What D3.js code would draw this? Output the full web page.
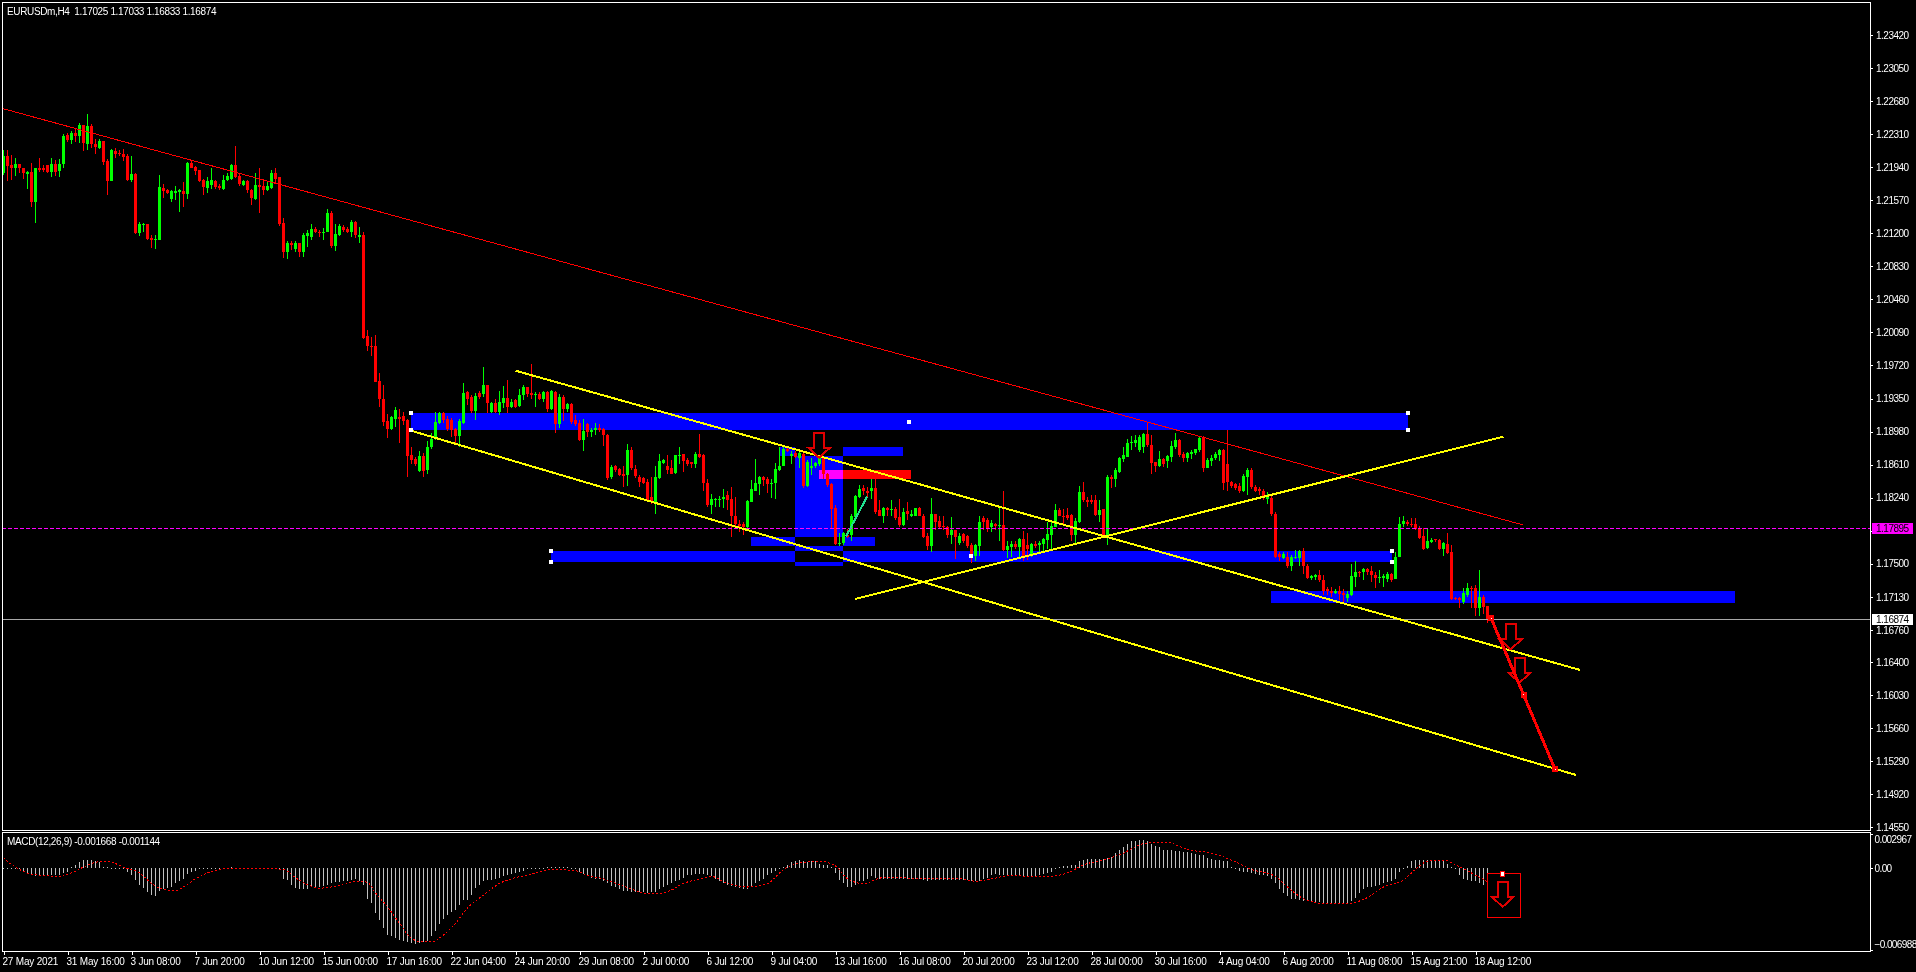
<!DOCTYPE html>
<html>
<head>
<meta charset="utf-8">
<title>EURUSDm,H4</title>
<script src="https://cdn.jsdelivr.net/npm/d3@7/dist/d3.min.js"></script>
<style>
  html, body { margin: 0; padding: 0; background: #000; overflow: hidden; }
  svg { display: block; }
  text { font-family: "Liberation Sans", Arial, sans-serif; font-size: 10px; letter-spacing: -0.5px; fill: #fff; }
  .blocks { isolation: isolate; }
  .blocks rect { mix-blend-mode: difference; }
</style>
</head>
<body>
<div id="plot"></div>
<script>
// all prices below are in units of 0.0001 (12187 = 1.2187), one entry per H4 bar
const opens = [
12187,12206,12196,12193,12198,12193,12186,12189,12155,12193,12193,12196,12189,12198,12190,12198,
12230,12224,12232,12229,12241,12220,12240,12220,12216,12223,12201,12178,12212,12210,12209,12207,
12180,12186,12120,12129,12130,12115,12112,12112,12171,12169,12158,12165,12166,12167,12164,12199,
12194,12191,12180,12171,12174,12178,12173,12170,12180,12181,12196,12184,12174,12178,12169,12158,
12174,12173,12168,12171,12188,12183,12131,12099,12109,12102,12109,12099,12117,12116,12125,12122,
12121,12122,12143,12106,12118,12127,12125,12122,12133,12116,12118,12005,11994,11994,11955,11935,
11910,11901,11912,11914,11916,11911,11872,11867,11854,11871,11855,11881,11890,11908,11919,11912,
11911,11901,11893,11908,11942,11937,11921,11941,11940,11950,11920,11930,11920,11930,11936,11925,
11933,11927,11939,11948,11941,11939,11940,11934,11942,11923,11942,11907,11937,11923,11929,11911,
11908,11889,11907,11898,11900,11902,11901,11894,11847,11859,11856,11851,11849,11877,11856,11847,
11846,11842,11825,11819,11846,11863,11859,11857,11852,11872,11873,11866,11864,11862,11873,11872,
11841,11816,11821,11822,11822,11827,11822,11803,11795,11794,11791,11819,11832,11839,11847,11845,
11839,11840,11855,11860,11879,11871,11874,11868,11873,11837,11857,11859,11862,11868,11851,11839,
11812,11772,11773,11782,11782,11802,11825,11835,11831,11831,11835,11810,11804,11813,11810,11811,
11802,11793,11809,11803,11803,11812,11804,11781,11770,11806,11798,11792,11791,11782,11788,11773,
11783,11781,11771,11759,11770,11801,11799,11791,11795,11792,11793,11766,11769,11772,11769,11778,
11771,11760,11772,11771,11772,11777,11782,11791,11810,11804,11805,11805,11782,11797,11830,11821,
11821,11821,11805,11811,11782,11847,11845,11853,11867,11870,11885,11885,11877,11881,11895,11883,
11864,11860,11867,11865,11870,11881,11889,11873,11868,11873,11874,11877,11891,11857,11865,11868,
11872,11877,11862,11842,11839,11837,11832,11847,11855,11836,11834,11832,11823,11824,11806,11761,
11757,11758,11747,11758,11757,11764,11748,11734,11735,11738,11732,11722,11720,11717,11719,11717,
11712,11715,11735,11741,11741,11744,11742,11738,11734,11734,11733,11739,11733,11758,11794,11797,
11795,11794,11790,11781,11768,11774,11778,11777,11767,11772,11763,11712,11712,11707,11715,11723,
11723,11701,11713,11702.5];

const highs = [
12213,12213,12208,12204,12198,12193,12190,12199,12193,12204,12196,12196,12204,12202,12203,12231,
12232,12234,12237,12243,12241,12253,12242,12226,12226,12223,12203,12214,12215,12213,12214,12209,
12207,12188,12133,12132,12130,12118,12118,12185,12175,12170,12168,12173,12170,12177,12200,12202,
12195,12191,12181,12183,12193,12180,12175,12185,12187,12198,12218,12187,12180,12180,12170,12187,
12193,12181,12177,12191,12193,12183,12137,12111,12111,12111,12109,12120,12124,12130,12127,12124,
12126,12147,12145,12130,12130,12129,12127,12135,12134,12127,12122,12012,12004,12006,11964,11950,
11918,11916,11925,11923,11920,11912,11881,11870,11876,11874,11887,11896,11920,11920,11920,11915,
11913,11902,11912,11952,11943,11939,11941,11943,11970,11950,11931,11935,11943,11949,11956,11935,
11935,11946,11950,11948,11974,11942,11942,11943,11943,11945,11943,11940,11939,11930,11930,11917,
11911,11912,11908,11902,11908,11907,11902,11895,11861,11861,11857,11860,11884,11881,11861,11849,
11847,11845,11847,11859,11873,11867,11872,11866,11872,11881,11873,11868,11864,11875,11895,11873,
11845,11828,11824,11826,11834,11832,11836,11825,11799,11797,11821,11844,11867,11848,11848,11847,
11845,11863,11881,11881,11881,11876,11876,11877,11875,11866,11868,11864,11870,11870,11852,11840,
11816,11784,11786,11789,11806,11827,11838,11838,11836,11845,11845,11821,11814,11814,11821,11814,
11822,11813,11819,11810,11813,11814,11806,11784,11824,11806,11803,11803,11792,11802,11788,11784,
11784,11782,11773,11772,11803,11804,11801,11799,11796,11814,11831,11776,11776,11775,11779,11787,
11784,11773,11776,11775,11779,11797,11798,11817,11813,11811,11812,11806,11801,11837,11842,11825,
11827,11827,11821,11811,11849,11849,11857,11870,11881,11890,11893,11894,11894,11896,11908,11894,
11864,11876,11868,11872,11888,11896,11890,11875,11875,11877,11879,11893,11893,11868,11872,11875,
11879,11878,11900,11843,11840,11840,11850,11857,11857,11838,11836,11834,11830,11826,11808,11763,
11763,11763,11760,11765,11765,11768,11750,11738,11739,11743,11738,11724,11724,11722,11725,11722,
11719,11750,11753,11742,11745,11745,11748,11741,11743,11739,11741,11740,11763,11802,11804,11799,
11801,11801,11792,11790,11789,11779,11778,11778,11774,11784,11771,11713,11713,11723,11729,11725,
11726,11743,11715,11703.3];

const lows = [
12185,12178,12180,12184,12187,12181,12170,12150,12132,12189,12189,12187,12183,12184,12183,12193,
12222,12220,12222,12221,12212,12213,12215,12209,12214,12196,12163,12178,12204,12206,12201,12178,
12177,12119,12117,12121,12113,12103,12102,12112,12159,12164,12155,12157,12144,12149,12158,12193,
12185,12177,12163,12165,12170,12170,12168,12169,12178,12180,12182,12173,12173,12165,12152,12157,
12143,12163,12167,12170,12176,12128,12092,12091,12101,12099,12094,12094,12105,12112,12120,12116,
12112,12121,12104,12100,12117,12122,12120,12116,12115,12109,12002,11988,11983,11953,11926,11904,
11891,11900,11903,11885,11905,11847,11862,11859,11853,11847,11851,11879,11889,11907,11908,11899,
11892,11883,11881,11907,11928,11919,11911,11935,11937,11919,11919,11919,11917,11924,11919,11924,
11924,11925,11933,11937,11935,11925,11933,11931,11920,11922,11896,11902,11910,11920,11907,11904,
11888,11876,11892,11892,11894,11898,11882,11844,11845,11853,11848,11836,11837,11855,11846,11836,
11839,11819,11817,11806,11845,11862,11851,11850,11850,11862,11853,11860,11857,11857,11869,11831,
11814,11806,11814,11814,11812,11810,11780,11791,11786,11782,11789,11819,11832,11827,11837,11829,
11824,11823,11854,11859,11875,11862,11868,11857,11835,11836,11849,11857,11860,11845,11836,11789,
11771,11770,11771,11779,11775,11801,11824,11827,11825,11823,11806,11803,11796,11804,11803,11799,
11791,11792,11799,11802,11803,11803,11779,11765,11763,11788,11789,11788,11779,11772,11755,11771,
11773,11768,11751,11753,11759,11788,11786,11786,11788,11776,11764,11756,11758,11767,11758,11753,
11754,11758,11768,11763,11763,11767,11767,11791,11803,11795,11799,11775,11772,11796,11819,11814,
11817,11803,11797,11779,11771,11835,11836,11852,11864,11870,11877,11881,11875,11874,11881,11850,
11853,11858,11858,11857,11864,11879,11870,11864,11864,11867,11872,11875,11853,11857,11860,11866,
11865,11833,11832,11835,11833,11829,11830,11827,11834,11830,11827,11821,11817,11804,11756,11753,
11755,11745,11742,11755,11748,11739,11733,11732,11732,11730,11715,11715,11713,11716,11710,11707,
11707,11714,11724,11735,11732,11737,11730,11723,11728,11724,11730,11730,11733,11758,11791,11792,
11791,11788,11778,11766,11767,11773,11774,11766,11759,11761,11710,11709,11700,11705,11713,11700,
11691,11692,11694,11683.3];

const closes = [
12206,12195,12193,12198,12193,12187,12189,12155,12193,12191,12191,12189,12198,12189,12198,12229,
12224,12232,12229,12241,12221,12240,12220,12217,12223,12200,12178,12213,12209,12209,12205,12180,
12186,12120,12130,12130,12114,12112,12114,12172,12167,12165,12167,12167,12168,12164,12199,12193,
12190,12178,12172,12178,12180,12172,12171,12180,12184,12196,12183,12175,12178,12168,12159,12174,
12172,12168,12173,12188,12181,12130,12099,12109,12107,12109,12099,12118,12120,12125,12121,12120,
12122,12143,12106,12119,12128,12124,12121,12133,12118,12118,12003,11994,11993,11954,11935,11909,
11901,11914,11922,11912,11910,11871,11866,11862,11871,11854,11881,11890,11909,11919,11911,11901,
11900,11893,11910,11941,11935,11921,11938,11937,11950,11930,11930,11920,11931,11936,11925,11931,
11926,11939,11948,11940,11939,11940,11934,11942,11923,11943,11907,11937,11923,11929,11909,11907,
11889,11899,11898,11900,11902,11900,11894,11846,11858,11855,11849,11848,11877,11857,11848,11842,
11841,11821,11819,11847,11865,11866,11855,11851,11872,11872,11865,11862,11862,11873,11870,11840,
11816,11822,11823,11823,11825,11821,11803,11794,11792,11791,11820,11834,11840,11847,11844,11839,
11841,11856,11860,11879,11876,11873,11870,11874,11837,11864,11859,11863,11868,11850,11838,11811,
11772,11773,11784,11780,11803,11826,11834,11831,11829,11835,11808,11804,11812,11810,11811,11801,
11793,11808,11806,11806,11812,11804,11780,11770,11806,11797,11791,11791,11782,11788,11780,11781,
11775,11770,11758,11771,11797,11797,11790,11796,11792,11793,11766,11770,11772,11769,11778,11759,
11767,11772,11770,11773,11778,11783,11792,11810,11803,11803,11801,11782,11798,11830,11821,11819,
11819,11805,11810,11781,11847,11845,11855,11868,11872,11885,11886,11889,11892,11895,11883,11863,
11860,11867,11862,11871,11882,11889,11872,11868,11874,11875,11878,11891,11857,11866,11869,11873,
11877,11841,11842,11837,11835,11832,11848,11855,11836,11832,11832,11825,11827,11806,11758,11758,
11761,11747,11758,11758,11764,11748,11734,11736,11738,11732,11720,11720,11717,11720,11716,11715,
11716,11736,11741,11740,11744,11741,11737,11734,11735,11736,11739,11732,11758,11795,11798,11794,
11793,11789,11779,11767,11776,11777,11777,11767,11773,11762,11711,11711,11709,11717,11723,11722,
11701,11713,11702,11687.4];

// macd values are in units of 0.0001 too
const macdHist = [
0,0,0,0,-1,-3,-4,-6,-7,-7,-7,-6,-6,-6,-6,-4,
-3,1,3,5,7,7,7,6,5,1,1,0,0,-1,-1,-3,
-6,-10,-14,-17,-20,-23,-24,-19,-18,-17,-16,-13,-11,-9,-5,-3,
-2,-1,-1,-1,-1,-1,0,0,0,1,0,0,0,0,0,0,
0,0,0,-1,-1,-1,-9,-10,-14,-17,-18,-18,-18,-16,-16,-16,
-15,-14,-13,-12,-12,-11,-11,-10,-9,-11,-14,-26,-30,-38,-44,-51,
-57,-58,-60,-61,-62,-63,-64,-65,-64,-63,-62,-58,-54,-48,-43,-40,
-37,-36,-31,-27,-27,-23,-17,-14,-11,-10,-10,-9,-8,-7,-6,-5,
-4,-3,-2,-1,-1,0,0,0,1,1,1,1,1,1,0,-1,
-3,-5,-7,-8,-9,-9,-11,-13,-15,-16,-18,-19,-19,-20,-20,-20,
-20,-21,-20,-20,-18,-16,-14,-13,-11,-10,-8,-6,-6,-5,-5,-5,
-6,-7,-9,-11,-13,-14,-15,-16,-17,-18,-18,-15,-13,-11,-9,-6,
-4,-2,-1,1,3,5,6,7,6,5,6,6,4,3,3,1,
-4,-10,-13,-16,-16,-14,-11,-11,-9,-7,-8,-9,-9,-9,-9,-9,
-9,-9,-9,-9,-9,-9,-10,-11,-10,-10,-10,-10,-10,-10,-10,-10,
-10,-10,-11,-11,-11,-9,-8,-6,-5,-6,-6,-7,-7,-7,-7,-7,
-7,-7,-7,-6,-5,-4,-3,-1,1,2,2,3,3,6,7,8,
8,8,8,8,9,10,13,16,18,21,23,23,24,24,23,21,
19,18,16,16,16,15,15,14,14,13,12,11,11,9,8,7,
7,6,6,1,-1,-2,-3,-3,-4,-5,-6,-6,-7,-9,-13,-18,
-21,-24,-26,-26,-27,-28,-28,-28,-29,-29,-30,-30,-30,-30,-30,-30,
-30,-28,-25,-21,-18,-16,-16,-15,-14,-13,-12,-11,-9,-3,-1,2,
6,7,7,7,7,6,6,6,6,4,1,-1,-6,-9,-10,-11,
-11,-13,-14,-16.68];

const signalBars = [
0,1,4,7,10,14,17,20,22,25,28,30,34,37,40,43,45,48,51,54,
58,63,70,73,76,79,82,85,88,91,93,96,99,102,105,107,110,113,116,120,
124,128,131,134,137,143,146,150,154,158,162,166,170,174,177,181,186,191,195,200,
204,208,211,215,220,224,230,239,243,247,252,257,261,266,270,275,280,284,287,291,
296,302,307,312,318,321,325,330,336,341,345,350,353,356,360,363,367,371];
const signalValues = [
9,6,-1,-5,-6,-7,-4,1,4,6,4,1,-4,-13,-18,-19,-16,-9,-4,-1,
0,0,-1,-8,-14,-17,-16,-14,-11,-12,-21,-33,-47,-60,-63,-63,-57,-47,-34,-23,
-13,-8,-6,-3,-1,-2,-6,-9,-14,-19,-22,-20,-13,-9,-7,-13,-16,-13,-1,5,
6,2,-9,-13,-8,-8,-9,-9,-11,-9,-6,-7,-7,-4,3,7,13,20,22,22,
16,13,7,-1,-7,-16,-26,-30,-30,-25,-16,-10,-1,6,7,3,-4,-11.44];

const priceTicks = [1.2342,1.2305,1.2268,1.2231,1.2194,1.2157,1.212,1.2083,1.2046,1.2009,1.1972,1.1935,1.1898,1.1861,1.1824,1.1787,1.175,1.1713,1.1676,1.164,1.1603,1.1566,1.1529,1.1492,1.1455];
const macdTicks = [0.002967, 0, -0.006988];
const timeLabels = ["27 May 2021","31 May 16:00","3 Jun 08:00","7 Jun 20:00","10 Jun 12:00","15 Jun 00:00","17 Jun 16:00","22 Jun 04:00","24 Jun 20:00","29 Jun 08:00","2 Jul 00:00","6 Jul 12:00","9 Jul 04:00","13 Jul 16:00","16 Jul 08:00","20 Jul 20:00","23 Jul 12:00","28 Jul 00:00","30 Jul 16:00","4 Aug 04:00","6 Aug 20:00","11 Aug 08:00","15 Aug 21:00","18 Aug 12:00"];

const bidPrice = 1.16874;
const markedPrice = 1.17895;

// drawn objects, given as bar number and price: [bar0, price0, bar1, price1]
const redTrend = [-0.4, 1.22599, 379.9, 1.17935];
const yellowTrends = [
  [128, 1.19662, 394.1, 1.16312],
  [101.9, 1.1899, 393.1, 1.15136],
  [212.9, 1.17106, 375, 1.18923]
];
const greenTrend = [210.6, 1.17804, 215.9, 1.18252];
const targetBars = [371.9, 380, 387.9];
const targetPrices = [1.1689, 1.16035, 1.152];
const blueZones = [
  [101.9, 1.19183, 351, 1.18996],
  [136.9, 1.17644, 347, 1.17521],
  [316.75, 1.17196, 432.9, 1.17065],
  [197.9, 1.18808, 209.9, 1.17476],
  [193.9, 1.18808, 224.9, 1.18707],
  [186.9, 1.178, 217.9, 1.177]
];
const redZone = [203.9, 1.1855, 226.9, 1.1845];
const arrowBars = [203.9, 376.8, 379];
const arrowPrices = [1.18688, 1.16543, 1.16169];
const macdArrowBar = 374.8;
const macdArrowValue = -0.00329;
const macdBox = [370.9, -0.00043, 379.3, -0.00423];

const WIDTH = 1916;
const HEIGHT = 972;
const LEFT = 2;
const RIGHT = 1870;
const MAIN_TOP = 2;
const MAIN_BOTTOM = 830;
const SUB_TOP = 832;
const SUB_BOTTOM = 951;
const RED = "#ff0000";
const GREEN = "#00ff00";
const BLUE = "#0000ff";
const YELLOW = "#ffff00";
const MAGENTA = "#ff00ff";

const SVG = d3.select("#plot")
              .append("svg")
              .attr("width", WIDTH)
              .attr("height", HEIGHT);

SVG.append("rect").attr("width", WIDTH).attr("height", HEIGHT).attr("fill", "#000");

const xScale = d3.scaleLinear().domain([0, 371]).range([3.5, 1487.5]);
const yScale = d3.scaleLinear().domain([1.1455, 1.2342]).range([827.3, 35]);
const macdScale = d3.scaleLinear().domain([-0.006988, 0.002967]).range([950, 833.6]);

const bars = d3.range(opens.length);
const px = (v) => v / 10000;

// zones cancel each other where they overlap, the terminal draws them that way
const blocks = SVG.append("g").attr("class", "blocks").attr("shape-rendering", "crispEdges");
function addZone(z, color) {
  blocks.append("rect")
    .attr("x", xScale(z[0]))
    .attr("y", yScale(z[1]))
    .attr("width", xScale(z[2]) - xScale(z[0]))
    .attr("height", yScale(z[3]) - yScale(z[1]))
    .attr("fill", color);
}
blueZones.forEach((z) => addZone(z, BLUE));
addZone(redZone, RED);

// candles
const candles = SVG.append("g").attr("shape-rendering", "crispEdges");
const color = (i) => (closes[i] >= opens[i] ? GREEN : RED);

candles.selectAll(".wick")
  .data(bars)
  .enter()
  .append("rect")
    .attr("class", "wick")
    .attr("x", (i) => xScale(i) - 0.5)
    .attr("y", (i) => yScale(px(highs[i])))
    .attr("width", 1)
    .attr("height", (i) => yScale(px(lows[i])) - yScale(px(highs[i])))
    .attr("fill", color);

candles.selectAll(".body")
  .data(bars)
  .enter()
  .append("rect")
    .attr("class", "body")
    .attr("x", (i) => xScale(i) - 1.5)
    .attr("y", (i) => yScale(px(Math.max(opens[i], closes[i]))))
    .attr("width", 3)
    .attr("height", (i) => Math.max(1, Math.abs(yScale(px(opens[i])) - yScale(px(closes[i])))))
    .attr("fill", color);

// price lines
SVG.append("line")
  .attr("x1", LEFT).attr("x2", RIGHT)
  .attr("y1", yScale(bidPrice)).attr("y2", yScale(bidPrice))
  .attr("stroke", "#a8a8a8")
  .attr("shape-rendering", "crispEdges");

SVG.append("line")
  .attr("x1", LEFT).attr("x2", RIGHT)
  .attr("y1", yScale(markedPrice)).attr("y2", yScale(markedPrice))
  .attr("stroke", MAGENTA)
  .attr("stroke-dasharray", "4,2")
  .attr("shape-rendering", "crispEdges");

function addTrend(t, stroke, width) {
  SVG.append("line")
    .attr("x1", xScale(t[0])).attr("y1", yScale(t[1]))
    .attr("x2", xScale(t[2])).attr("y2", yScale(t[3]))
    .attr("stroke", stroke)
    .attr("stroke-width", width)
    .attr("shape-rendering", "crispEdges");
}
addTrend(redTrend, RED, 1);
yellowTrends.forEach((t) => addTrend(t, YELLOW, 2));
addTrend(greenTrend, "#20e090", 2);

// hollow down arrow, tip at the given point
function addArrow(x, y) {
  const points = [[x, y], [x - 11, y - 10], [x - 5, y - 10], [x - 5, y - 25], [x + 5, y - 25], [x + 5, y - 10], [x + 11, y - 10]];
  SVG.append("path")
    .attr("d", d3.line()(points) + "Z")
    .attr("fill", "none")
    .attr("stroke", "#e00000")
    .attr("stroke-width", 2)
    .attr("shape-rendering", "crispEdges");
}
arrowBars.forEach((b, i) => addArrow(xScale(b), yScale(arrowPrices[i])));

// projected move
const targetPoints = d3.zip(targetBars, targetPrices);
SVG.append("path")
  .attr("d", d3.line().x((d) => xScale(d[0])).y((d) => yScale(d[1]))(targetPoints))
  .attr("fill", "none")
  .attr("stroke", RED)
  .attr("stroke-width", 3)
  .attr("shape-rendering", "crispEdges");
const nodes = SVG.append("g").attr("shape-rendering", "crispEdges");
targetPoints.forEach((d) => {
  nodes.append("rect").attr("x", xScale(d[0]) - 3).attr("y", yScale(d[1]) - 3).attr("width", 6).attr("height", 6).attr("fill", RED);
  nodes.append("rect").attr("x", xScale(d[0]) - 0.5).attr("y", yScale(d[1]) - 0.5).attr("width", 1).attr("height", 1).attr("fill", "#fff");
});

// selection handles of the two big zones
const handles = SVG.append("g").attr("shape-rendering", "crispEdges");
blueZones.slice(0, 2).forEach((z) => {
  const midBar = (z[0] + z[2]) / 2;
  const midPrice = (z[1] + z[3]) / 2;
  [[z[0], z[1]], [z[0], z[3]], [z[2], z[1]], [z[2], z[3]], [midBar, midPrice]].forEach((h) => {
    handles.append("rect")
      .attr("x", xScale(h[0]) - 2)
      .attr("y", yScale(h[1]) - 2)
      .attr("width", 4)
      .attr("height", 4)
      .attr("fill", "#fff");
  });
});

// macd window
const hist = SVG.append("g").attr("shape-rendering", "crispEdges");
hist.selectAll("rect")
  .data(bars)
  .enter()
  .append("rect")
    .attr("x", (i) => xScale(i) - 0.5)
    .attr("y", (i) => Math.min(macdScale(0), macdScale(px(macdHist[i]))))
    .attr("width", 1)
    .attr("height", (i) => Math.max(1, Math.abs(macdScale(px(macdHist[i])) - macdScale(0))))
    .attr("fill", "#c0c0c0");

SVG.append("path")
  .attr("d", d3.line()
    .x((d) => xScale(d[0]))
    .y((d) => macdScale(px(d[1])))
    .curve(d3.curveMonotoneX)(d3.zip(signalBars, signalValues)))
  .attr("fill", "none")
  .attr("stroke", RED)
  .attr("stroke-dasharray", "2,2")
  .attr("shape-rendering", "crispEdges");

SVG.append("rect")
  .attr("x", xScale(macdBox[0]))
  .attr("y", macdScale(macdBox[1]))
  .attr("width", xScale(macdBox[2]) - xScale(macdBox[0]))
  .attr("height", macdScale(macdBox[3]) - macdScale(macdBox[1]))
  .attr("fill", "none")
  .attr("stroke", RED)
  .attr("shape-rendering", "crispEdges");
addArrow(xScale(macdArrowBar), macdScale(macdArrowValue));
SVG.append("rect")
  .attr("x", xScale(macdArrowBar) - 2)
  .attr("y", macdScale(macdBox[1]) - 2)
  .attr("width", 4)
  .attr("height", 5)
  .attr("fill", "#fff")
  .attr("stroke", RED)
  .attr("shape-rendering", "crispEdges");

// frames
const frames = SVG.append("g").attr("fill", "none").attr("stroke", "#fff").attr("shape-rendering", "crispEdges");
frames.append("rect").attr("x", LEFT).attr("y", MAIN_TOP).attr("width", RIGHT - LEFT).attr("height", MAIN_BOTTOM - MAIN_TOP);
frames.append("rect").attr("x", LEFT).attr("y", SUB_TOP).attr("width", RIGHT - LEFT).attr("height", SUB_BOTTOM - SUB_TOP);

// axes
const priceAxis = d3.axisRight(yScale).tickValues(priceTicks).tickSize(3).tickPadding(3).tickFormat(d3.format(".5f"));
const macdAxis = d3.axisRight(macdScale).tickValues(macdTicks).tickSize(3).tickPadding(1.5)
  .tickFormat((d) => (d === 0 ? "0.00" : d3.format(".6f")(d)));
const timeAxis = d3.axisBottom(xScale).tickValues(timeLabels.map((d, i) => i * 16)).tickSize(4).tickPadding(3)
  .tickFormat((d) => timeLabels[d / 16]);

function styleAxis(g) {
  g.select(".domain").remove();
  g.selectAll("line").attr("stroke", "#fff").attr("shape-rendering", "crispEdges");
  g.selectAll("text").attr("fill", "#fff");
}

SVG.append("g").attr("transform", `translate(${RIGHT}, 0)`).call(priceAxis).call(styleAxis);

const macdG = SVG.append("g").attr("transform", `translate(${RIGHT}, 0)`).call(macdAxis).call(styleAxis);
macdG.selectAll("text")
  .attr("transform", (d) => (d > 0 ? "translate(0,6)" : d < 0 ? "translate(0,-6)" : null))
  .style("letter-spacing", "-0.6px");

const timeG = SVG.append("g").attr("transform", `translate(0, ${SUB_BOTTOM})`).call(timeAxis).call(styleAxis);
timeG.selectAll("text").attr("text-anchor", "start").attr("dx", -1.5).style("letter-spacing", "-0.2px");

// price boxes on the scale
function priceBox(value, fill) {
  const y = yScale(value);
  SVG.append("rect")
    .attr("x", RIGHT + 2).attr("y", y - 5.5)
    .attr("width", 41).attr("height", 11)
    .attr("fill", fill)
    .attr("shape-rendering", "crispEdges");
  SVG.append("text")
    .attr("x", RIGHT + 6).attr("y", y)
    .attr("dy", "0.36em")
    .style("fill", "#000")
    .text(d3.format(".5f")(value));
}
priceBox(markedPrice, MAGENTA);
priceBox(bidPrice, "#fff");

// titles
SVG.append("text").attr("x", 7).attr("y", 14.5).attr("xml:space", "preserve").style("letter-spacing", "-0.36px").text("EURUSDm,H4  1.17025 1.17033 1.16833 1.16874");
SVG.append("text").attr("x", 7).attr("y", 845).style("letter-spacing", "-0.35px").text("MACD(12,26,9) -0.001668 -0.001144");
</script>
</body>
</html>
